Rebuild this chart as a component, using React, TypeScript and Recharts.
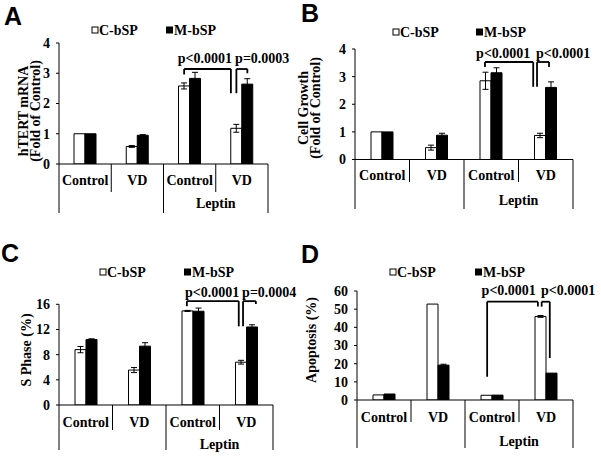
import React from 'react';
import { BarChart, Bar, XAxis, YAxis, ErrorBar, ReferenceLine, ReferenceDot } from 'recharts';

const SERIF = "'Liberation Serif', 'Times New Roman', serif";
const SANS = "'Liberation Sans', Arial, sans-serif";

// ---------- categories / labels ----------
const categoryKeys = ['Control', 'VD', 'Leptin Control', 'Leptin VD'];
const categoryLabels = ['Control', 'VD', 'Control', 'VD'];
const groupLabel = 'Leptin';
const seriesC = 'C-bSP';
const seriesM = 'M-bSP';

// ---------- Panel A: hTERT mRNA ----------
const aC = [1.0, 0.58, 2.58, 1.18];
const aCErr = [0, 0.03, 0.1, 0.13];
const aM = [1.0, 0.95, 2.83, 2.64];
const aMErr = [0, 0.02, 0.2, 0.18];
const aTicks = [0, 1, 2, 3, 4];

// ---------- Panel B: Cell growth ----------
const bC = [1.0, 0.43, 2.85, 0.87];
const bCErr = [0, 0.09, 0.31, 0.08];
const bM = [1.0, 0.88, 3.14, 2.61];
const bMErr = [0, 0.07, 0.18, 0.2];
const bTicks = [0, 1, 2, 3, 4];

// ---------- Panel C: S phase ----------
const cC = [8.8, 5.55, 14.95, 6.8];
const cCErr = [0.5, 0.4, 0.08, 0.3];
const cM = [10.4, 9.35, 14.9, 12.4];
const cMErr = [0.12, 0.55, 0.5, 0.35];
const cTicks = [0, 4, 8, 12, 16];

// ---------- Panel D: Apoptosis ----------
const dC = [2.8, 52.8, 2.6, 46.0];
const dCErr = [0, 0, 0, 0.5];
const dM = [3.3, 19.2, 2.7, 14.8];
const dMErr = [0, 0.5, 0, 0];
const dTicks = [0, 10, 20, 30, 40, 50, 60];

// ---------- significance annotations (x in category units 0..4, y in data units) ----------
const aBrackets = [
  { x1: 2.395, x2: 3.29, top: 3.14, b1: 2.96, b2: 2.34 },
  { x1: 3.395, x2: 3.605, top: 3.14, b1: 2.34, b2: 3.0 },
];
const aTexts = [
  { x: 2.79, y: 3.5, text: 'p<0.0001' },
  { x: 3.89, y: 3.5, text: 'p=0.0003' },
];
const bBrackets = [
  { x1: 2.385, x2: 3.27, top: 3.53, b1: 3.35, b2: 2.63 },
  { x1: 3.34, x2: 3.56, top: 3.53, b1: 2.63, b2: 3.35 },
];
const bTexts = [
  { x: 2.72, y: 3.86, text: 'p<0.0001' },
  { x: 3.82, y: 3.86, text: 'p<0.0001' },
];
const cBrackets = [
  { x1: 2.39, x2: 3.36, top: 16.5, b1: 15.7, b2: 12.5 },
  { x1: 3.44, x2: 3.68, top: 16.5, b1: 12.5, b2: 16.05 },
];
const cTexts = [
  { x: 2.86, y: 17.96, text: 'p<0.0001' },
  { x: 3.93, y: 17.96, text: 'p=0.0004' },
];
const dBrackets = [
  { x1: 2.41, x2: 3.35, top: 54.1, b1: 12.8, b2: 51.4 },
  { x1: 3.42, x2: 3.57, top: 54.1, b1: 51.4, b2: 23.1 },
];
const dTexts = [
  { x: 2.81, y: 60.5, text: 'p<0.0001' },
  { x: 3.91, y: 60.5, text: 'p<0.0001' },
];

function buildRows(c: number[], cErr: number[], m: number[], mErr: number[]) {
  return categoryKeys.map((key, i) => ({ key, c: c[i], cErr: cErr[i], m: m[i], mErr: mErr[i] }));
}

const Y_AXIS_W = 30;

type Cfg = {
  left: number; top: number; width: number; height: number;
  margin: { top: number; right: number; bottom: number; left: number };
  xAxisHeight: number;
  tick: { text: number; group: number; short: number; long: number };
};

const cfgA: Cfg = {
  left: 0, top: 0, width: 300, height: 230,
  margin: { top: 43, right: 32, bottom: 10, left: 29 }, xAxisHeight: 56,
  tick: { text: 21, group: 44, short: 28, long: 49 },
};
const cfgB: Cfg = {
  left: 290, top: 0, width: 311, height: 230,
  margin: { top: 49, right: 28, bottom: 14.5, left: 35 }, xAxisHeight: 56,
  tick: { text: 20.5, group: 45.5, short: 22.5, long: 49.5 },
};
const cfgC: Cfg = {
  left: 0, top: 230, width: 300, height: 231,
  margin: { top: 74.3, right: 27, bottom: 6, left: 29 }, xAxisHeight: 50,
  tick: { text: 22, group: 44, short: 25, long: 45 },
};
const cfgD: Cfg = {
  left: 290, top: 230, width: 311, height: 231,
  margin: { top: 61, right: 28, bottom: 6, left: 37 }, xAxisHeight: 55,
  tick: { text: 22, group: 46, short: 22, long: 48 },
};

const textStyle = { fontFamily: SERIF, fontWeight: 'bold' as const, fontSize: 14, fill: '#000' };

// split a position in category units into (category key, offset inside band as a fraction)
function splitPos(v: number) {
  const idx = Math.max(0, Math.min(3, Math.floor(v)));
  return { key: categoryKeys[idx], frac: v - idx - 0.5 };
}

function Panel(props: {
  cfg: Cfg; rows: any[]; domain: [number, number]; ticks: number[];
  brackets: { x1: number; x2: number; top: number; b1: number; b2: number }[];
  texts: { x: number; y: number; text: string }[];
}) {
  const { cfg, rows, domain, ticks, brackets, texts } = props;
  const plotW = cfg.width - cfg.margin.left - cfg.margin.right - Y_AXIS_W;
  const bw = plotW / 4;
  const o = cfg.tick;
  const renderTick = (tp: any) => {
    const { x, y, index } = tp;
    const isLong = index % 2 === 0;
    return (
      <g>
        <text x={x} y={y + o.text} textAnchor="middle" {...textStyle}>{categoryLabels[index]}</text>
        <line x1={x - bw / 2} x2={x - bw / 2} y1={y} y2={y + (isLong ? o.long : o.short)} stroke="#000" strokeWidth={1} />
        {index === 3 && (
          <line x1={x + bw / 2} x2={x + bw / 2} y1={y} y2={y + o.long} stroke="#000" strokeWidth={1} />
        )}
        {index === 2 && (
          <text x={x + bw / 2} y={y + o.group} textAnchor="middle" {...textStyle}>{groupLabel}</text>
        )}
      </g>
    );
  };

  const seg = (key: string, xa: number, ya: number, xb: number, yb: number) => {
    const pa = splitPos(xa);
    const pb = splitPos(xb);
    const dxa = pa.frac * bw;
    const dxb = pb.frac * bw;
    return (
      <ReferenceLine
        key={key}
        ifOverflow="visible"
        segment={[{ x: pa.key, y: ya }, { x: pb.key, y: yb }]}
        shape={(p: any) => (
          <line x1={p.x1 + dxa} y1={p.y1} x2={p.x2 + dxb} y2={p.y2} stroke="#000" strokeWidth={1.8} />
        )}
      />
    );
  };

  const refEls: any[] = [];
  brackets.forEach((b, i) => {
    refEls.push(seg(`l${i}`, b.x1, b.b1, b.x1, b.top));
    refEls.push(seg(`h${i}`, b.x1, b.top, b.x2, b.top));
    refEls.push(seg(`r${i}`, b.x2, b.top, b.x2, b.b2));
  });
  texts.forEach((t, i) => {
    const p = splitPos(t.x);
    const dx = p.frac * bw;
    refEls.push(
      <ReferenceDot
        key={`t${i}`}
        x={p.key}
        y={t.y}
        r={0}
        fill="none"
        stroke="none"
        ifOverflow="visible"
        label={{
          content: (lp: any) => {
            const vb = lp.viewBox || {};
            const cx = (vb.x || 0) + (vb.width || 0) / 2 + dx;
            const cy = (vb.y || 0) + (vb.height || 0) / 2;
            return (
              <text x={cx} y={cy + 5} textAnchor="middle" {...textStyle}>{t.text}</text>
            );
          },
        }}
      />
    );
  });

  return (
    <div style={{ position: 'absolute', left: cfg.left, top: cfg.top, width: cfg.width, height: cfg.height }}>
      <BarChart width={cfg.width} height={cfg.height} data={rows} margin={cfg.margin} barSize={11} barGap={0}>
        <XAxis
          dataKey="key"
          interval={0}
          tick={renderTick}
          tickLine={false}
          tickSize={0}
          tickMargin={0}
          axisLine={{ stroke: '#000', strokeWidth: 1 }}
          height={cfg.xAxisHeight}
          padding={{ left: 0, right: 0 }}
        />
        <YAxis
          domain={domain}
          ticks={ticks}
          interval={0}
          allowDataOverflow
          width={Y_AXIS_W}
          tickSize={3}
          tickMargin={6}
          axisLine={{ stroke: '#000', strokeWidth: 1 }}
          tickLine={{ stroke: '#000', strokeWidth: 1 }}
          tick={{ ...textStyle }}
        />
        <Bar dataKey="c" name={seriesC} fill="#fff" stroke="#000" strokeWidth={1} isAnimationActive={false}>
          <ErrorBar dataKey="cErr" width={3} stroke="#000" strokeWidth={1} direction="y" />
        </Bar>
        <Bar dataKey="m" name={seriesM} fill="#000" stroke="#000" strokeWidth={1} isAnimationActive={false}>
          <ErrorBar dataKey="mErr" width={3} stroke="#000" strokeWidth={1} direction="y" />
        </Bar>
        {refEls}
      </BarChart>
    </div>
  );
}

function LegendG(props: { cx: number; mx: number; cy: number }) {
  const { cx, mx, cy } = props;
  return (
    <g>
      <rect x={cx} y={cy - 3} width={6} height={6} fill="#fff" stroke="#000" strokeWidth={1} />
      <text x={cx + 7} y={cy + 5} {...textStyle}>{seriesC}</text>
      <rect x={mx} y={cy - 3.5} width={7} height={7} fill="#000" />
      <text x={mx + 8} y={cy + 5} {...textStyle}>{seriesM}</text>
    </g>
  );
}

function YLab(props: { x: number; y: number; text: string }) {
  return (
    <text transform={`translate(${props.x},${props.y}) rotate(-90)`} textAnchor="middle" {...textStyle}>
      {props.text}
    </text>
  );
}

export default function App() {
  const letterStyle = { fontFamily: SANS, fontWeight: 'bold' as const, fontSize: 25, fill: '#000' };
  return (
    <div style={{ position: 'absolute', left: 0, top: 0, width: 601, height: 461, background: '#fff' }}>
      <Panel cfg={cfgA} rows={buildRows(aC, aCErr, aM, aMErr)} domain={[0, 4]} ticks={aTicks} brackets={aBrackets} texts={aTexts} />
      <Panel cfg={cfgB} rows={buildRows(bC, bCErr, bM, bMErr)} domain={[0, 4]} ticks={bTicks} brackets={bBrackets} texts={bTexts} />
      <Panel cfg={cfgC} rows={buildRows(cC, cCErr, cM, cMErr)} domain={[0, 16]} ticks={cTicks} brackets={cBrackets} texts={cTexts} />
      <Panel cfg={cfgD} rows={buildRows(dC, dCErr, dM, dMErr)} domain={[0, 60]} ticks={dTicks} brackets={dBrackets} texts={dTexts} />
      <svg width={601} height={461} style={{ position: 'absolute', left: 0, top: 0, pointerEvents: 'none' }}>
        <text x={4} y={25} {...letterStyle}>A</text>
        <text x={301} y={22} {...letterStyle}>B</text>
        <text x={1} y={262} {...letterStyle}>C</text>
        <text x={301} y={263} {...letterStyle}>D</text>
        <LegendG cx={92} mx={166} cy={30} />
        <LegendG cx={393} mx={476} cy={32} />
        <LegendG cx={100} mx={184} cy={272} />
        <LegendG cx={390} mx={475} cy={272} />
        <YLab x={28} y={111} text="hTERT mRNA" />
        <YLab x={40} y={111} text="(Fold of Control)" />
        <YLab x={308} y={108} text="Cell Growth" />
        <YLab x={320} y={108} text="(Fold of Control)" />
        <YLab x={31} y={350} text="S Phase (%)" />
        <YLab x={316} y={340} text="Apoptosis (%)" />
      </svg>
    </div>
  );
}
